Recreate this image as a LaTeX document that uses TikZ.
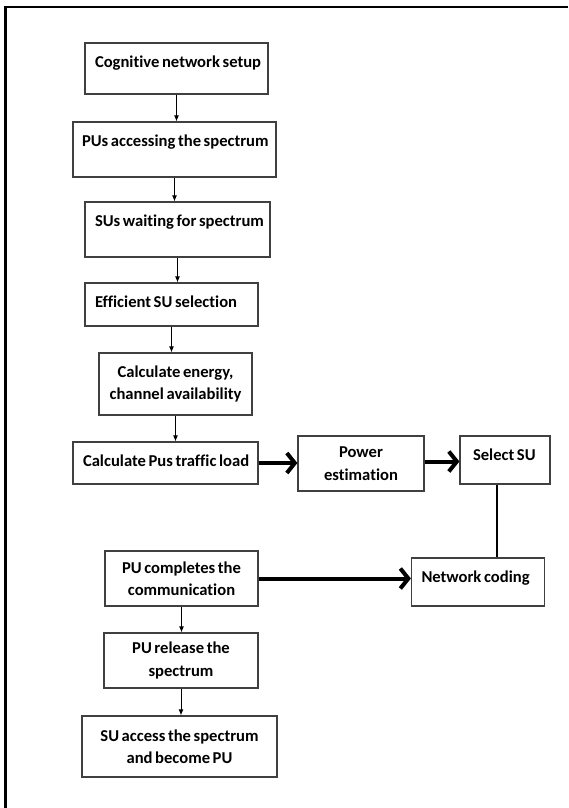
\documentclass[tikz,border=0pt]{standalone}
\usepackage{fontspec}
\setmainfont{Carlito}[Ligatures=NoCommon, WordSpace=0.7]
\usepackage{tikz}
\usetikzlibrary{arrows.meta}
\usepackage{xcolor}
\definecolor{boxgray}{gray}{0.25}

\begin{document}
\begin{tikzpicture}
  [x=1pt, y=-1pt,
   stage/.style={rectangle, draw=boxgray, line width=1.2pt, inner ysep=0pt,
     font=\bfseries\fontsize{16.6}{22.5}\selectfont},
   single/.style={align=flush left, inner xsep=10pt, text height=24pt,
     execute at begin node=\hbox\bgroup, execute at end node=\egroup},
   double/.style={align=center, inner xsep=0pt},
   towards/.style={-{Latex[length=6pt, width=5pt]}, line width=0.9pt},
   bold/.style={-{Straight Barb[length=8pt, width=20pt]}, line width=4pt},
   link/.style={line width=2.5pt},
  ]

  \useasboundingbox (0,0) rectangle (568,808);
  \draw[line width=2.2pt] (568,7) -- (5.5,7) -- (5.5,808);

  \node[stage, single, text width=163pt, text depth=27pt] (cog) at (176.5,68.5) {Cognitive network setup};
  \node[stage, single, text width=185pt, inner xsep=9pt, text depth=31pt] (pua) at (174.5,149.5) {PUs accessing the spectrum};
  \node[stage, single, text width=165pt, text depth=31pt] (suw) at (177.5,229.5) {SUs waiting for spectrum};
  \node[stage, single, text width=153pt, text depth=19pt] (eff) at (171.5,304.5) {Efficient SU selection};
  \node[stage, double, minimum width=153pt, minimum height=62pt] (cal) at (175.5,384) {Calculate energy,\\channel availability};
  \node[stage, single, text width=165pt, text depth=18pt] (pus) at (165.5,463) {Calculate Pus traffic load};

  \node[stage, double, minimum width=126pt, minimum height=55pt] (pow) at (361,463.5) {Power\\estimation};
  \node[stage, single, inner xsep=13pt, text width=64pt, text depth=24pt] (sel) at (505,460) {Select SU};
  \node[stage, single, text width=113pt, text depth=24pt] (ncd) at (478,582) {Network coding};

  \node[stage, double, minimum width=153pt, minimum height=55pt] (com) at (181.5,578.5) {PU completes the\\communication};
  \node[stage, double, minimum width=154pt, minimum height=55pt] (rel) at (181,660.5) {PU release the\\spectrum};
  \node[stage, double, minimum width=195pt, minimum height=61pt] (acc) at (179.5,746.5) {SU access the spectrum\\and become PU};

  \path (cog) edge[towards] (cog |- pua.north)
        (pua) edge[towards] (pua |- suw.north)
        (suw.south) edge[towards] (suw.south |- eff.north)
        (eff.south) edge[towards] (eff.south |- cal.north)
        (cal) edge[towards] (cal |- pus.north)
        (com) edge[towards] (com |- rel.north)
        (rel) edge[towards] (rel |- acc.north);

  \path (pus.east) edge[bold] (pus.east -| pow.west)
        ([yshift=2pt]pow.east) edge[bold] ([yshift=2pt]pow.east -| sel.west)
        (com.east) edge[bold] (com.east -| ncd.west)
        ([xshift=-8pt]sel.south) edge[link] ([xshift=-8pt]sel.south |- ncd.north);

\end{tikzpicture}
\end{document}
